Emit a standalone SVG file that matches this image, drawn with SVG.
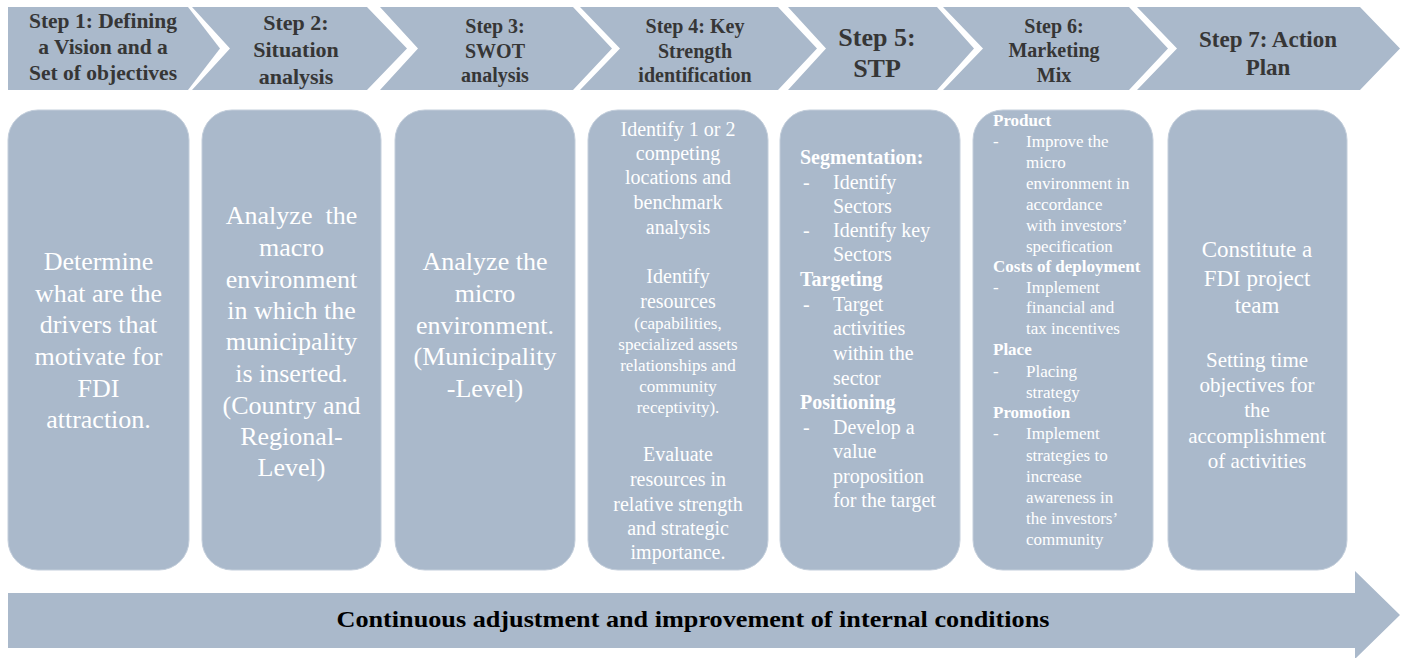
<svg xmlns="http://www.w3.org/2000/svg" width="1405" height="658" viewBox="0 0 1405 658">
<style>
.shape{fill:#aab9cb}
.box{fill:#aab9cb;stroke:#c3cedb;stroke-width:1}
.hd{font-family:"Liberation Serif","Times New Roman",serif;font-weight:bold;fill:#363636;text-anchor:middle}
.bt{font-family:"Liberation Serif","Times New Roman",serif;fill:#ffffff;text-anchor:middle}
.bl{font-family:"Liberation Serif","Times New Roman",serif;fill:#ffffff}
.b{font-weight:bold}
.ft{font-family:"Liberation Serif","Times New Roman",serif;font-weight:bold;fill:#000;text-anchor:middle;font-size:23px}
</style>
<rect width="1405" height="658" fill="#ffffff"/>

<g id="step1">
<polygon class="shape" points="8,7 188,7 220,48.5 188,90 8,90"/>
<text class="hd" font-size="21.5" x="103"><tspan x="103" y="28">Step 1: Defining</tspan><tspan x="103" y="54">a Vision and a</tspan><tspan x="103" y="80">Set of objectives</tspan></text>
<rect class="box" x="8" y="110" width="181" height="460" rx="30"/>
<text class="bt" font-size="26"><tspan x="98.5" y="270">Determine</tspan><tspan x="98.5" y="302">what are the</tspan><tspan x="98.5" y="333">drivers that</tspan><tspan x="98.5" y="365">motivate for</tspan><tspan x="98.5" y="397">FDI</tspan><tspan x="98.5" y="428">attraction.</tspan></text>
</g>

<g id="step2">
<polygon class="shape" points="192,7 367,7 407,48.5 367,90 192,90 230,48.5"/>
<text class="hd" font-size="22"><tspan x="296" y="30">Step 2:</tspan><tspan x="296" y="57">Situation</tspan><tspan x="296" y="84">analysis</tspan></text>
<rect class="box" x="202" y="110" width="179" height="460" rx="30"/>
<text class="bt" font-size="26"><tspan x="291.5" y="224" xml:space="preserve">Analyze  the</tspan><tspan x="291.5" y="256">macro</tspan><tspan x="291.5" y="288">environment</tspan><tspan x="291.5" y="319">in which the</tspan><tspan x="291.5" y="350">municipality</tspan><tspan x="291.5" y="382">is inserted.</tspan><tspan x="291.5" y="414">(Country and</tspan><tspan x="291.5" y="445">Regional-</tspan><tspan x="291.5" y="476">Level)</tspan></text>
</g>

<g id="step3">
<polygon class="shape" points="380,7 573,7 612,48.5 573,90 380,90 418,48.5"/>
<text class="hd" font-size="20"><tspan x="495" y="33">Step 3:</tspan><tspan x="495" y="58">SWOT</tspan><tspan x="495" y="82">analysis</tspan></text>
<rect class="box" x="395" y="110" width="180" height="460" rx="30"/>
<text class="bt" font-size="26"><tspan x="485" y="270">Analyze the</tspan><tspan x="485" y="302">micro</tspan><tspan x="485" y="334">environment.</tspan><tspan x="485" y="365">(Municipality</tspan><tspan x="485" y="397">-Level)</tspan></text>
</g>

<g id="step4">
<polygon class="shape" points="580,7 778,7 817,48.5 778,90 580,90 620,48.5"/>
<text class="hd" font-size="20"><tspan x="695" y="33">Step 4: Key</tspan><tspan x="695" y="58">Strength</tspan><tspan x="695" y="82">identification</tspan></text>
<rect class="box" x="588" y="110" width="180" height="460" rx="30"/>
<text class="bt" font-size="20"><tspan x="678" y="136">Identify 1 or 2</tspan><tspan x="678" y="160">competing</tspan><tspan x="678" y="184">locations and</tspan><tspan x="678" y="209">benchmark</tspan><tspan x="678" y="234">analysis</tspan><tspan x="678" y="283">Identify</tspan><tspan x="678" y="308">resources</tspan></text>
<text class="bt" font-size="17"><tspan x="678" y="329">(capabilities,</tspan><tspan x="678" y="350">specialized assets</tspan><tspan x="678" y="371">relationships and</tspan><tspan x="678" y="392">community</tspan><tspan x="678" y="413">receptivity).</tspan></text>
<text class="bt" font-size="20"><tspan x="678" y="461">Evaluate</tspan><tspan x="678" y="486">resources in</tspan><tspan x="678" y="511">relative strength</tspan><tspan x="678" y="535">and strategic</tspan><tspan x="678" y="559">importance.</tspan></text>
</g>

<g id="step5">
<polygon class="shape" points="788,7 937,7 974,48.5 937,90 788,90 826,48.5"/>
<text class="hd" font-size="26"><tspan x="877" y="46">Step 5:</tspan><tspan x="877" y="77">STP</tspan></text>
<rect class="box" x="780" y="110" width="180" height="460" rx="30"/>
<text class="bl" font-size="20">
<tspan class="b" x="800" y="164">Segmentation:</tspan>
<tspan x="803" y="189">-</tspan><tspan x="833" y="189">Identify</tspan>
<tspan x="833" y="213">Sectors</tspan>
<tspan x="803" y="237">-</tspan><tspan x="833" y="237">Identify key</tspan>
<tspan x="833" y="261">Sectors</tspan>
<tspan class="b" x="800" y="286">Targeting</tspan>
<tspan x="803" y="311">-</tspan><tspan x="833" y="311">Target</tspan>
<tspan x="833" y="335">activities</tspan>
<tspan x="833" y="360">within the</tspan>
<tspan x="833" y="385">sector</tspan>
<tspan class="b" x="800" y="409">Positioning</tspan>
<tspan x="803" y="434">-</tspan><tspan x="833" y="434">Develop a</tspan>
<tspan x="833" y="458">value</tspan>
<tspan x="833" y="483">proposition</tspan>
<tspan x="833" y="507">for the target</tspan>
</text>
</g>

<g id="step6">
<polygon class="shape" points="943,7 1129,7 1168,48.5 1129,90 943,90 983,48.5"/>
<text class="hd" font-size="20"><tspan x="1054" y="33">Step 6:</tspan><tspan x="1054" y="57">Marketing</tspan><tspan x="1054" y="82">Mix</tspan></text>
<rect class="box" x="973" y="110" width="180" height="460" rx="30"/>
<text class="bl" font-size="17">
<tspan class="b" x="993" y="126">Product</tspan>
<tspan x="993" y="147">-</tspan><tspan x="1026" y="147">Improve the</tspan>
<tspan x="1026" y="168">micro</tspan>
<tspan x="1026" y="189">environment in</tspan>
<tspan x="1026" y="210">accordance</tspan>
<tspan x="1026" y="231">with investors’</tspan>
<tspan x="1026" y="252">specification</tspan>
<tspan class="b" x="993" y="272">Costs of deployment</tspan>
<tspan x="993" y="293">-</tspan><tspan x="1026" y="293">Implement</tspan>
<tspan x="1026" y="313">financial and</tspan>
<tspan x="1026" y="334">tax incentives</tspan>
<tspan class="b" x="993" y="355">Place</tspan>
<tspan x="993" y="377">-</tspan><tspan x="1026" y="377">Placing</tspan>
<tspan x="1026" y="398">strategy</tspan>
<tspan class="b" x="993" y="418">Promotion</tspan>
<tspan x="993" y="439">-</tspan><tspan x="1026" y="439">Implement</tspan>
<tspan x="1026" y="461">strategies to</tspan>
<tspan x="1026" y="482">increase</tspan>
<tspan x="1026" y="503">awareness in</tspan>
<tspan x="1026" y="524">the investors’</tspan>
<tspan x="1026" y="545">community</tspan>
</text>
</g>

<g id="step7">
<polygon class="shape" points="1137,7 1360,7 1400,48.5 1360,90 1137,90 1177,48.5"/>
<text class="hd" font-size="23"><tspan x="1268" y="47">Step 7: Action</tspan><tspan x="1268" y="75">Plan</tspan></text>
<rect class="box" x="1168" y="110" width="179" height="460" rx="30"/>
<text class="bt" font-size="23"><tspan x="1257" y="257">Constitute a</tspan><tspan x="1257" y="286">FDI project</tspan><tspan x="1257" y="313">team</tspan></text>
<text class="bt" font-size="21"><tspan x="1257" y="367">Setting time</tspan><tspan x="1257" y="392">objectives for</tspan><tspan x="1257" y="417">the</tspan><tspan x="1257" y="443">accomplishment</tspan><tspan x="1257" y="468">of activities</tspan></text>
</g>

<g id="continuous">
<polygon class="shape" points="8,593 1355,593 1355,571 1400,615 1355,659 1355,648 8,648"/>
<text class="ft" x="693" y="627" textLength="713" lengthAdjust="spacingAndGlyphs">Continuous adjustment and improvement of internal conditions</text>
</g>

<g id="connectors"></g>
</svg>
